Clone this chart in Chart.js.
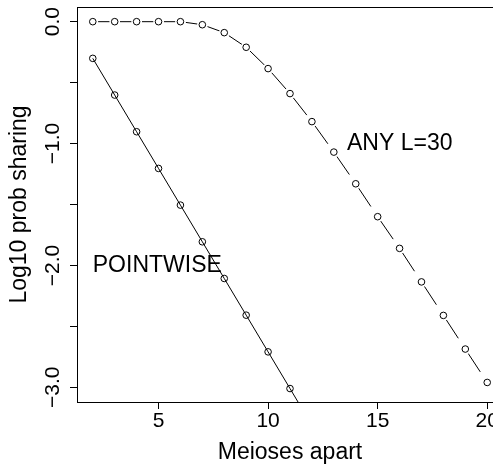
<!DOCTYPE html>
<html>
<head>
<meta charset="utf-8">
<script src="https://cdn.jsdelivr.net/npm/chart.js@4.4.1/dist/chart.umd.min.js"></script>
<style>
  html, body { margin: 0; padding: 0; background: #fff; overflow: hidden; }
  #wrap { width: 520px; height: 467px; }
</style>
</head>
<body>
<div id="wrap"><canvas id="meiosisChart"></canvas></div>
<script>
// datos
const meioses = [2, 3, 4, 5, 6, 7, 8, 9, 10, 11, 12, 13, 14, 15, 16, 17, 18, 19, 20];
const anyL30 = [0, 0, 0, 0, 0, -0.025, -0.09, -0.21, -0.385, -0.59, -0.82, -1.07, -1.33, -1.60, -1.86, -2.135, -2.41, -2.686, -2.96];
const pointwiseMeioses = [2, 3, 4, 5, 6, 7, 8, 9, 10, 11, 12];
const pointwise = [-0.301, -0.602, -0.903, -1.204, -1.505, -1.806, -2.107, -2.408, -2.709, -3.010, -3.311];

const xTicks = [5, 10, 15, 20];
const yTicks = [0, -0.5, -1, -1.5, -2, -2.5, -3];
const yTickLabels = [0, -1, -2, -3];

const curveLabels = ['POINTWISE', 'ANY L=30'];
const curveLabelX = [2, 13.6];
const curveLabelY = [-2.0, -1.0];

const FUENTE = "'Liberation Sans', Arial, Helvetica, sans-serif";

function toXY(xs, ys) {
    return xs.map((x, i) => ({ x: x, y: ys[i] }));
}

// marco, etiquetas del eje y y textos de las curvas
const extras = {
    id: 'extras',
    afterDraw(chart) {
        const { ctx, chartArea, scales } = chart;
        ctx.save();
        ctx.strokeStyle = '#000';
        ctx.lineWidth = 1;
        ctx.strokeRect(chartArea.left + 0.5, chartArea.top + 0.5,
            chartArea.right - chartArea.left, chartArea.bottom - chartArea.top);

        ctx.fillStyle = '#000';
        ctx.font = '21px ' + FUENTE;
        ctx.textAlign = 'center';
        ctx.textBaseline = 'alphabetic';
        yTickLabels.forEach(v => {
            const py = scales.y.getPixelForValue(v);
            const txt = (v < 0 ? '\u2212' : '') + Math.abs(v).toFixed(1);
            ctx.save();
            ctx.translate(58.5, py);
            ctx.rotate(-Math.PI / 2);
            ctx.fillText(txt, 0, 0);
            ctx.restore();
        });

        ctx.font = '23px ' + FUENTE;
        ctx.textAlign = 'left';
        ctx.textBaseline = 'middle';
        curveLabels.forEach((t, i) => {
            ctx.fillText(t, scales.x.getPixelForValue(curveLabelX[i]),
                scales.y.getPixelForValue(curveLabelY[i]));
        });
        ctx.restore();
    }
};

const config = {
    type: 'line',
    data: {
        datasets: [
            {   // circulos de ANY L=30
                data: toXY(meioses, anyL30),
                showLine: false,
                pointRadius: 3.3,
                pointBorderWidth: 1,
                pointBorderColor: '#000',
                pointBackgroundColor: 'rgba(0,0,0,0)'
            },
            {   // huecos blancos alrededor de los puntos (tipo "b")
                data: toXY(meioses, anyL30),
                showLine: false,
                pointRadius: 5.3,
                pointBorderWidth: 0,
                pointBackgroundColor: '#fff'
            },
            {   // linea discontinua ANY L=30
                data: toXY(meioses, anyL30),
                borderColor: '#000',
                borderWidth: 1,
                borderDash: [22, 22],
                pointRadius: 0,
                tension: 0,
                segment: {
                    // el patron se reinicia en cada tramo
                    borderDashOffset: c => 38.7 + c.p0DataIndex * 0.001
                }
            },
            {   // POINTWISE
                data: toXY(pointwiseMeioses, pointwise),
                borderColor: '#000',
                borderWidth: 1,
                tension: 0,
                pointRadius: 3.3,
                pointBorderWidth: 1,
                pointBorderColor: '#000',
                pointBackgroundColor: 'rgba(0,0,0,0)'
            }
        ]
    },
    options: {
        responsive: true,
        maintainAspectRatio: false,
        animation: false,
        layout: { padding: { top: 7, right: 17, bottom: 0, left: 0 } },
        plugins: {
            legend: { display: false },
            tooltip: { enabled: false }
        },
        scales: {
            x: {
                type: 'linear',
                min: 1.28,
                max: 20.72,
                afterBuildTicks: s => { s.ticks = xTicks.map(v => ({ value: v })); },
                afterFit: s => { s.height = 65; },
                border: { display: false },
                grid: { drawOnChartArea: false, drawTicks: true, tickLength: 7, color: '#000' },
                ticks: {
                    color: '#000',
                    font: { family: FUENTE, size: 21 },
                    padding: 0,
                    autoSkip: false,
                    maxRotation: 0
                },
                title: {
                    display: true,
                    text: 'Meioses apart',
                    color: '#000',
                    font: { family: FUENTE, size: 23 },
                    padding: { top: 0, bottom: 1 }
                }
            },
            y: {
                type: 'linear',
                min: -3.1204,
                max: 0.1204,
                afterBuildTicks: s => { s.ticks = yTicks.map(v => ({ value: v })); },
                afterFit: s => { s.width = 77; },
                border: { display: false },
                grid: { drawOnChartArea: false, drawTicks: true, tickLength: 7, color: '#000' },
                ticks: { display: false },
                title: {
                    display: true,
                    text: 'Log10 prob sharing',
                    color: '#000',
                    font: { family: FUENTE, size: 23 },
                    padding: { top: 6, bottom: 0 }
                }
            }
        }
    },
    plugins: [extras]
};

const ctx = document.getElementById('meiosisChart').getContext('2d');
window.meiosisChartInstance = new Chart(ctx, config);
</script>
</body>
</html>
